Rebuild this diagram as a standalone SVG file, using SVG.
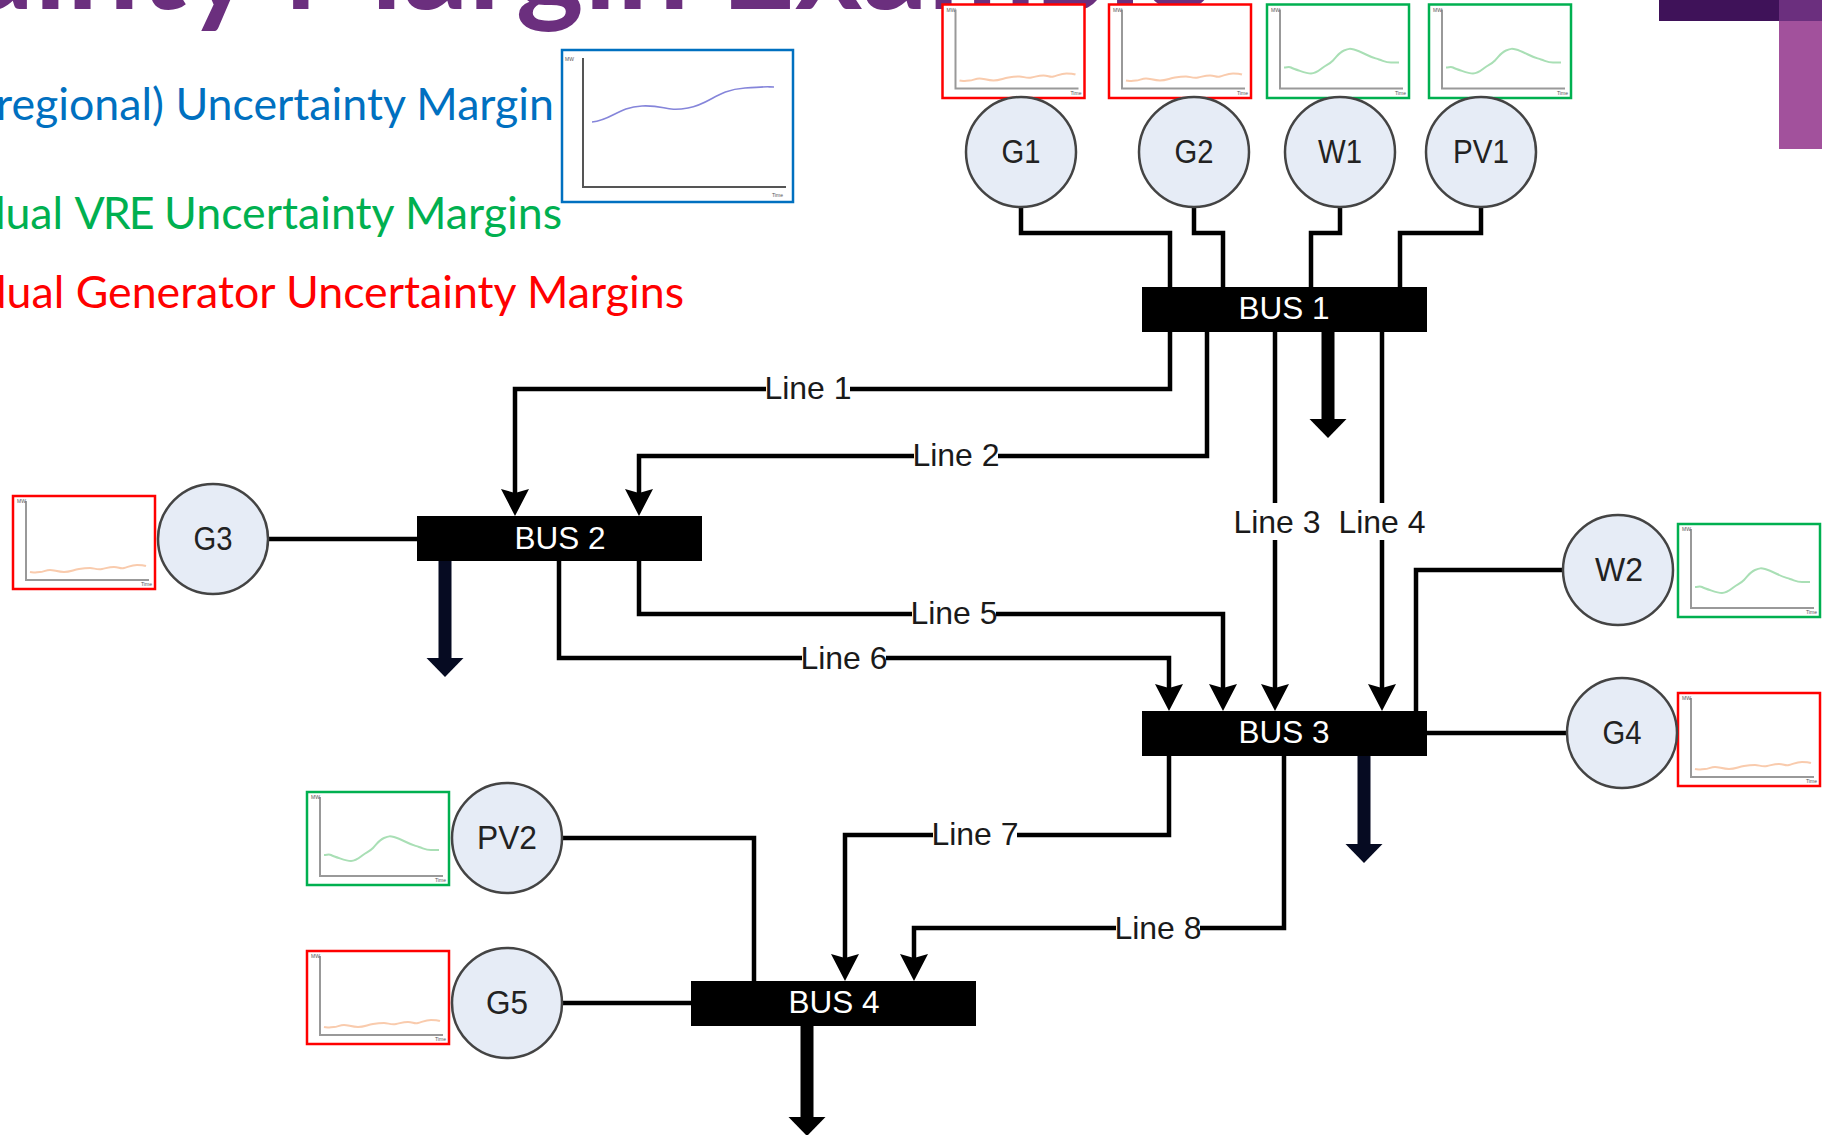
<svg xmlns="http://www.w3.org/2000/svg" width="1822" height="1135" viewBox="0 0 1822 1135">
<style>
.sans{font-family:"Liberation Sans",Arial,sans-serif}
.head{font-family:Lato,"Open Sans",sans-serif}
.node circle{fill:#e6ecf6;stroke:#444;stroke-width:2.5}
.node text{font-size:33px;fill:#222;text-anchor:middle;dominant-baseline:central}
.bus rect{fill:#000}
.bus text{font-size:31.5px;fill:#fff;text-anchor:middle;dominant-baseline:central}
.w{fill:none;stroke:#000;stroke-width:4.5}
.a{marker-end:url(#arr)}
.l{fill:none;stroke:#000;stroke-width:13}
.ld{marker-end:url(#load)}
.n{stroke:#060b22;marker-end:url(#loadn)}
.lbl{font-size:32px;fill:#1a1a1a;text-anchor:middle;dominant-baseline:central}
.mask{fill:#fff}
.fr{fill:#fff;stroke-width:2.5}
.ax{fill:none;stroke:#999;stroke-width:2}
.tiny{font-size:5px;fill:#555}
.legend{font-size:44.7px;text-anchor:end}
</style>
<defs>
<marker id="arr" markerUnits="userSpaceOnUse" markerWidth="28" markerHeight="30" viewBox="-21 -15 28 30" refX="0" refY="0" orient="auto"><path d="M-21,-14 L-17,0 L-21,14 L6,0Z" fill="#000"/></marker>
<marker id="load" markerUnits="userSpaceOnUse" markerWidth="19" markerHeight="38" viewBox="0 -19 19 38" refX="0" refY="0" orient="auto"><path d="M0,-18.5 L19,0 L0,18.5Z" fill="#000"/></marker>
<marker id="loadn" markerUnits="userSpaceOnUse" markerWidth="19" markerHeight="38" viewBox="0 -19 19 38" refX="0" refY="0" orient="auto"><path d="M0,-18.5 L19,0 L0,18.5Z" fill="#060b22"/></marker>
<g id="gen">
<path class="ax" d="M13,5V84H136"/>
<path d="M17,76C21,77 24,76 27,76S33,74 37,74 45,76 51,76 60,74 66,73 73,72 77,72 84,74 89,73 96,71 101,71 107,73 111,72 119,69 124,69 130,69 133,70" fill="none" stroke="#f9cbad" stroke-width="2"/>
<text class="sans tiny" x="4" y="7">MW</text><text class="sans tiny" x="128" y="90">Time</text>
</g>
<g id="vre">
<path class="ax" d="M13,5V84H136"/>
<path d="M17,63C20,63 22,62 24,63S39,69 44,69 52,66 56,63 62,60 66,56 72,48 77,46 83,44 87,45 93,47 99,50 106,53 112,55 119,58 124,58 130,58 132,58" fill="none" stroke="#a9dfb5" stroke-width="2"/>
<text class="sans tiny" x="4" y="7">MW</text><text class="sans tiny" x="128" y="90">Time</text>
</g>
</defs>
<text class="head" x="1210" y="8.5" font-size="129" font-weight="700" fill="#6b2f7e" text-anchor="end">ainty Margin Example</text>
<g id="decor">
<rect x="1659" y="0" width="120" height="21" fill="#3f1259"/>
<rect x="1779" y="0" width="43" height="21" fill="#6b2f7e"/>
<rect x="1779" y="21" width="43" height="128" fill="#a2519c"/>
</g>
<g id="legend" class="head">
<text class="legend" x="554" y="120" fill="#0070c0">regional) Uncertainty Margin</text>
<text class="legend" x="562" y="229" fill="#00b050">dual <tspan letter-spacing="-2">VRE</tspan> Uncertainty Margins</text>
<text class="legend" x="684" y="308" fill="#f00">dual Generator Uncertainty Margins</text>
</g>
<g id="chart-total">
<rect class="fr" x="562" y="50" width="231" height="152" stroke="#0070c0"/>
<path d="M583,58V187H786" fill="none" stroke="#555" stroke-width="2"/>
<path d="M592,122C612,120 618,107 642,106S665,112 688,108 716,90 745,88 765,87 774,87" fill="none" stroke="#8585da" stroke-width="1.6"/>
<text class="sans tiny" x="565" y="61">MW</text><text class="sans tiny" x="772" y="197">Time</text>
</g>
<g id="connectors">
<path class="w" d="M1021,207V233H1170V287"/>
<path class="w" d="M1194,207V233H1223V287"/>
<path class="w" d="M1340,207V233H1311V287"/>
<path class="w" d="M1481,207V233H1400V287"/>
<path class="w a" d="M1170,331V389H515V510"/>
<path class="w a" d="M1207,331V456H639V510"/>
<path class="w a" d="M1275,331V705"/>
<path class="w a" d="M1382,331V705"/>
<path class="w a" d="M639,561V614H1223V705"/>
<path class="w a" d="M559,561V658H1169V705"/>
<path class="w a" d="M1169,756V835H845V975"/>
<path class="w a" d="M1284,756V928H914V975"/>
<path class="w" d="M562,838H754V981"/>
<path class="w" d="M562,1003H691"/>
<path class="w" d="M268,539H417"/>
<path class="w" d="M1563,570H1416V711"/>
<path class="w" d="M1427,733H1567"/>
<path class="l ld" d="M1328,331V419"/>
<path class="l n" d="M445,561V658"/>
<path class="l n" d="M1364,756V844"/>
<path class="l ld" d="M807,1026V1117"/>
<g id="labels">
<rect class="mask" x="766" y="372" width="84" height="34"/><text class="sans lbl" x="808" y="388">Line 1</text>
<rect class="mask" x="914" y="439" width="84" height="34"/><text class="sans lbl" x="956" y="455">Line 2</text>
<rect class="mask" x="1235" y="503" width="84" height="37"/><text class="sans lbl" x="1277" y="522">Line 3</text>
<rect class="mask" x="1340" y="503" width="84" height="37"/><text class="sans lbl" x="1382" y="522">Line 4</text>
<rect class="mask" x="912" y="597" width="84" height="34"/><text class="sans lbl" x="954" y="613">Line 5</text>
<rect class="mask" x="802" y="641" width="84" height="34"/><text class="sans lbl" x="844" y="658">Line 6</text>
<rect class="mask" x="933" y="817" width="84" height="34"/><text class="sans lbl" x="975" y="834">Line 7</text>
<rect class="mask" x="1116" y="911" width="84" height="34"/><text class="sans lbl" x="1158" y="928">Line 8</text>
</g>
</g>
<g id="G1"><rect class="fr" x="942.5" y="4.5" width="142" height="93.5" stroke="#f00"/><use href="#gen" x="942.5" y="4.5"/><g class="node sans"><circle cx="1021" cy="152" r="55"/><text x="1021" y="151" textLength="39" lengthAdjust="spacingAndGlyphs">G1</text></g></g>
<g id="G2"><rect class="fr" x="1109" y="4.5" width="142" height="93.5" stroke="#f00"/><use href="#gen" x="1109" y="4.5"/><g class="node sans"><circle cx="1194" cy="152" r="55"/><text x="1194" y="151" textLength="39" lengthAdjust="spacingAndGlyphs">G2</text></g></g>
<g id="W1"><rect class="fr" x="1267" y="4.5" width="142" height="93.5" stroke="#00b050"/><use href="#vre" x="1267" y="4.5"/><g class="node sans"><circle cx="1340" cy="152" r="55"/><text x="1340" y="151" textLength="44" lengthAdjust="spacingAndGlyphs">W1</text></g></g>
<g id="PV1"><rect class="fr" x="1429" y="4.5" width="142" height="93.5" stroke="#00b050"/><use href="#vre" x="1429" y="4.5"/><g class="node sans"><circle cx="1481" cy="152" r="55"/><text x="1481" y="151" textLength="56" lengthAdjust="spacingAndGlyphs">PV1</text></g></g>
<g id="G3"><rect class="fr" x="13" y="496" width="142" height="93" stroke="#f00"/><use href="#gen" x="13" y="496"/><g class="node sans"><circle cx="213" cy="539" r="55"/><text x="213" y="538" textLength="39" lengthAdjust="spacingAndGlyphs">G3</text></g></g>
<g id="W2"><rect class="fr" x="1678" y="524" width="142" height="93" stroke="#00b050"/><use href="#vre" x="1678" y="524"/><g class="node sans"><circle cx="1618" cy="570" r="55"/><text x="1619" y="569" textLength="48" lengthAdjust="spacingAndGlyphs">W2</text></g></g>
<g id="G4"><rect class="fr" x="1678" y="693" width="142" height="93" stroke="#f00"/><use href="#gen" x="1678" y="693"/><g class="node sans"><circle cx="1622" cy="733" r="55"/><text x="1622" y="732" textLength="39" lengthAdjust="spacingAndGlyphs">G4</text></g></g>
<g id="PV2"><rect class="fr" x="307" y="792" width="142" height="93" stroke="#00b050"/><use href="#vre" x="307" y="792"/><g class="node sans"><circle cx="507" cy="838" r="55"/><text x="507" y="837" textLength="60" lengthAdjust="spacingAndGlyphs">PV2</text></g></g>
<g id="G5"><rect class="fr" x="307" y="951" width="142" height="93" stroke="#f00"/><use href="#gen" x="307" y="951"/><g class="node sans"><circle cx="507" cy="1003" r="55"/><text x="507" y="1002" textLength="42" lengthAdjust="spacingAndGlyphs">G5</text></g></g>
<g id="BUS1" class="bus sans"><rect x="1142" y="287" width="285" height="45"/><text x="1284" y="308">BUS 1</text></g>
<g id="BUS2" class="bus sans"><rect x="417" y="516" width="285" height="45"/><text x="560" y="538">BUS 2</text></g>
<g id="BUS3" class="bus sans"><rect x="1142" y="711" width="285" height="45"/><text x="1284" y="732">BUS 3</text></g>
<g id="BUS4" class="bus sans"><rect x="691" y="981" width="285" height="45"/><text x="834" y="1002">BUS 4</text></g>
</svg>
